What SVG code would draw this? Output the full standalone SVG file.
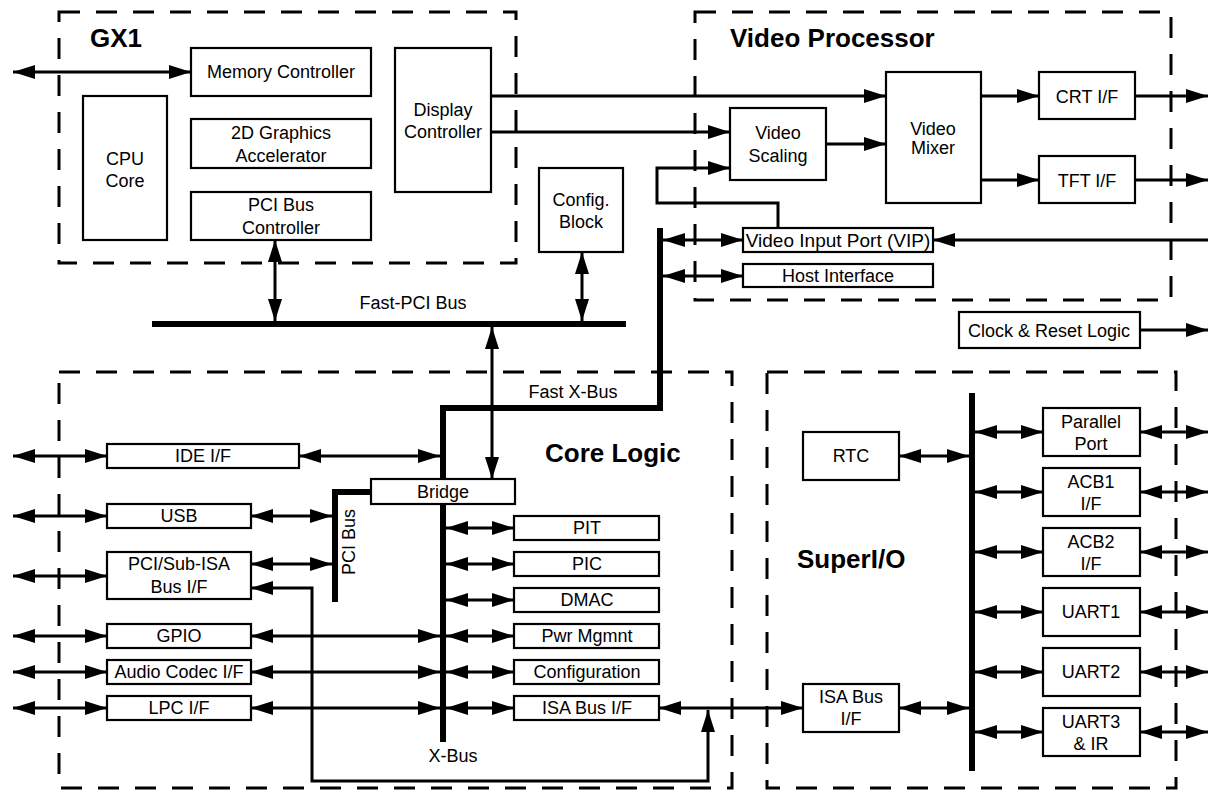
<svg xmlns="http://www.w3.org/2000/svg" width="1208" height="792" viewBox="0 0 1208 792">
<style>
text{font-family:"Liberation Sans",Arial,sans-serif;font-size:18px;fill:#000;text-anchor:middle}
.t{font-weight:bold;text-anchor:start;font-size:26px}
.box{fill:#fff;stroke:#000;stroke-width:2.2}
.dash{fill:none;stroke:#000;stroke-width:3;stroke-dasharray:21 16}
.c{fill:none;stroke:#000;stroke-width:3}
.bus{fill:none;stroke:#000;stroke-width:6}
.a2{marker-start:url(#ah);marker-end:url(#ah)}
.a1{marker-end:url(#ah)}
</style>
<defs>
<marker id="ah" markerUnits="userSpaceOnUse" markerWidth="22" markerHeight="14" refX="22" refY="7" orient="auto-start-reverse" viewBox="0 0 22 14">
<path d="M0,0 L22,7 L0,14 z" fill="#000"/>
</marker>
</defs>
<rect width="1208" height="792" fill="#fff"/>

<g id="regions">
<rect class="dash" x="59" y="12" width="457" height="251"/>
<rect class="dash" x="695" y="12" width="476" height="288"/>
<rect class="dash" x="59" y="372" width="673" height="416"/>
<rect class="dash" x="767" y="372" width="409" height="416"/>
<text class="t" x="90" y="47">GX1</text>
<text class="t" x="730" y="47">Video Processor</text>
<text class="t" x="545" y="462">Core Logic</text>
<text class="t" x="797" y="568">SuperI/O</text>
</g>

<g id="connectors">
<line class="bus" x1="152" y1="324" x2="626" y2="324"/>
<path class="bus" d="M660,228 L660,408 L443,408 L443,742"/>
<path class="bus" d="M371,492 L335,492 L335,602"/>
<line class="bus" x1="972" y1="393" x2="972" y2="771"/>
<text x="413" y="309">Fast-PCI Bus</text>
<text x="573" y="398">Fast X-Bus</text>
<text x="453" y="762">X-Bus</text>
<text x="0" y="0" transform="translate(355,542) rotate(-90)">PCI Bus</text>

<line class="c a2" x1="13" y1="72" x2="191" y2="72"/>
<line class="c a2" x1="275" y1="240" x2="275" y2="321"/>
<line class="c a2" x1="582" y1="252" x2="582" y2="321"/>
<line class="c a2" x1="492" y1="327" x2="492" y2="479"/>

<line class="c a1" x1="491" y1="96" x2="886" y2="96"/>
<line class="c a1" x1="491" y1="132" x2="730" y2="132"/>
<line class="c a1" x1="826" y1="144" x2="886" y2="144"/>
<line class="c a1" x1="981" y1="96" x2="1039" y2="96"/>
<line class="c a1" x1="981" y1="180" x2="1039" y2="180"/>
<line class="c a1" x1="1135" y1="96" x2="1208" y2="96"/>
<line class="c a1" x1="1135" y1="180" x2="1208" y2="180"/>
<path class="c a1" d="M778,228 L778,203 L657,203 L657,168 L730,168"/>
<line class="c a2" x1="663" y1="240" x2="743" y2="240"/>
<line class="c a2" x1="663" y1="276" x2="743" y2="276"/>
<line class="c a1" x1="1208" y1="240" x2="933" y2="240"/>
<line class="c a1" x1="1140" y1="330" x2="1208" y2="330"/>

<line class="c a2" x1="13" y1="456" x2="107" y2="456"/>
<line class="c a2" x1="13" y1="516" x2="107" y2="516"/>
<line class="c a2" x1="13" y1="576" x2="107" y2="576"/>
<line class="c a2" x1="13" y1="636" x2="107" y2="636"/>
<line class="c a2" x1="13" y1="672" x2="107" y2="672"/>
<line class="c a2" x1="13" y1="708" x2="107" y2="708"/>
<line class="c a2" x1="299" y1="456" x2="440" y2="456"/>
<line class="c a2" x1="251" y1="516" x2="332" y2="516"/>
<line class="c a2" x1="251" y1="564" x2="332" y2="564"/>
<line class="c a2" x1="251" y1="636" x2="440" y2="636"/>
<line class="c a2" x1="251" y1="672" x2="440" y2="672"/>
<line class="c a2" x1="251" y1="708" x2="440" y2="708"/>
<path class="c a2" d="M251,588 L312,588 L312,781 L708,781 L708,710"/>

<line class="c a2" x1="446" y1="528" x2="514" y2="528"/>
<line class="c a2" x1="446" y1="564" x2="514" y2="564"/>
<line class="c a2" x1="446" y1="600" x2="514" y2="600"/>
<line class="c a2" x1="446" y1="636" x2="514" y2="636"/>
<line class="c a2" x1="446" y1="672" x2="514" y2="672"/>
<line class="c a2" x1="446" y1="708" x2="514" y2="708"/>
<line class="c a2" x1="659" y1="708" x2="803" y2="708"/>

<line class="c a2" x1="899" y1="456" x2="969" y2="456"/>
<line class="c a2" x1="899" y1="708" x2="969" y2="708"/>
<line class="c a2" x1="975" y1="432" x2="1043" y2="432"/>
<line class="c a2" x1="975" y1="492" x2="1043" y2="492"/>
<line class="c a2" x1="975" y1="552" x2="1043" y2="552"/>
<line class="c a2" x1="975" y1="612" x2="1043" y2="612"/>
<line class="c a2" x1="975" y1="672" x2="1043" y2="672"/>
<line class="c a2" x1="975" y1="732" x2="1043" y2="732"/>
<line class="c a2" x1="1140" y1="432" x2="1208" y2="432"/>
<line class="c a2" x1="1140" y1="492" x2="1208" y2="492"/>
<line class="c a2" x1="1140" y1="552" x2="1208" y2="552"/>
<line class="c a2" x1="1140" y1="612" x2="1208" y2="612"/>
<line class="c a2" x1="1140" y1="672" x2="1208" y2="672"/>
<line class="c a2" x1="1140" y1="732" x2="1208" y2="732"/>
</g>

<g id="mem"><rect class="box" x="191" y="48" width="180" height="48"/><text x="281" y="78">Memory Controller</text></g>
<g id="cpu"><rect class="box" x="83" y="96" width="84" height="144"/><text x="125" y="165">CPU</text><text x="125" y="187">Core</text></g>
<g id="g2d"><rect class="box" x="191" y="119" width="180" height="49"/><text x="281" y="139">2D Graphics</text><text x="281" y="162">Accelerator</text></g>
<g id="pcictl"><rect class="box" x="191" y="192" width="180" height="48"/><text x="281" y="211">PCI Bus</text><text x="281" y="234">Controller</text></g>
<g id="disp"><rect class="box" x="395" y="48" width="96" height="144"/><text x="443" y="116">Display</text><text x="443" y="138">Controller</text></g>
<g id="cfgblk"><rect class="box" x="539" y="168" width="84" height="84"/><text x="581" y="206">Config.</text><text x="581" y="228">Block</text></g>

<g id="scal"><rect class="box" x="730" y="108" width="96" height="72"/><text x="778" y="139">Video</text><text x="778" y="162">Scaling</text></g>
<g id="mix"><rect class="box" x="886" y="72" width="95" height="131"/><text x="933" y="135">Video</text><text x="933" y="154">Mixer</text></g>
<g id="crt"><rect class="box" x="1039" y="72" width="96" height="47"/><text x="1087" y="103">CRT I/F</text></g>
<g id="tft"><rect class="box" x="1039" y="156" width="96" height="47"/><text x="1087" y="187">TFT I/F</text></g>
<g id="vip"><rect class="box" x="743" y="228" width="190" height="24"/><text x="838" y="247" style="font-size:19px">Video Input Port (VIP)</text></g>
<g id="host"><rect class="box" x="743" y="264" width="190" height="23"/><text x="838" y="282">Host Interface</text></g>
<g id="clk"><rect class="box" x="959" y="312" width="181" height="36"/><text x="1049" y="337">Clock &amp; Reset Logic</text></g>

<g id="ide"><rect class="box" x="107" y="444" width="192" height="24"/><text x="203" y="462">IDE I/F</text></g>
<g id="usb"><rect class="box" x="107" y="504" width="144" height="24"/><text x="179" y="522">USB</text></g>
<g id="subisa"><rect class="box" x="107" y="552" width="144" height="47"/><text x="179" y="570">PCI/Sub-ISA</text><text x="179" y="593">Bus I/F</text></g>
<g id="gpio"><rect class="box" x="107" y="624" width="144" height="24"/><text x="179" y="642">GPIO</text></g>
<g id="audio"><rect class="box" x="107" y="660" width="144" height="24"/><text x="179" y="678">Audio Codec I/F</text></g>
<g id="lpc"><rect class="box" x="107" y="696" width="144" height="24"/><text x="179" y="714">LPC I/F</text></g>
<g id="bridge"><rect class="box" x="371" y="479" width="144" height="25"/><text x="443" y="498">Bridge</text></g>
<g id="pit"><rect class="box" x="514" y="516" width="145" height="24"/><text x="587" y="534">PIT</text></g>
<g id="pic"><rect class="box" x="514" y="552" width="145" height="24"/><text x="587" y="570">PIC</text></g>
<g id="dmac"><rect class="box" x="514" y="588" width="145" height="24"/><text x="587" y="606">DMAC</text></g>
<g id="pwr"><rect class="box" x="514" y="624" width="145" height="24"/><text x="587" y="642">Pwr Mgmnt</text></g>
<g id="config"><rect class="box" x="514" y="660" width="145" height="24"/><text x="587" y="678">Configuration</text></g>
<g id="isa"><rect class="box" x="514" y="696" width="145" height="24"/><text x="587" y="714">ISA Bus I/F</text></g>

<g id="rtc"><rect class="box" x="803" y="432" width="96" height="48"/><text x="851" y="462">RTC</text></g>
<g id="sioisa"><rect class="box" x="803" y="684" width="96" height="48"/><text x="851" y="703">ISA Bus</text><text x="851" y="725">I/F</text></g>
<g id="par"><rect class="box" x="1043" y="408" width="97" height="48"/><text x="1091" y="428">Parallel</text><text x="1091" y="450">Port</text></g>
<g id="acb1"><rect class="box" x="1043" y="468" width="97" height="48"/><text x="1091" y="488">ACB1</text><text x="1091" y="510">I/F</text></g>
<g id="acb2"><rect class="box" x="1043" y="528" width="97" height="48"/><text x="1091" y="548">ACB2</text><text x="1091" y="570">I/F</text></g>
<g id="uart1"><rect class="box" x="1043" y="588" width="97" height="48"/><text x="1091" y="618">UART1</text></g>
<g id="uart2"><rect class="box" x="1043" y="648" width="97" height="48"/><text x="1091" y="678">UART2</text></g>
<g id="uart3"><rect class="box" x="1043" y="708" width="97" height="48"/><text x="1091" y="728">UART3</text><text x="1091" y="750">&amp; IR</text></g>
</svg>
